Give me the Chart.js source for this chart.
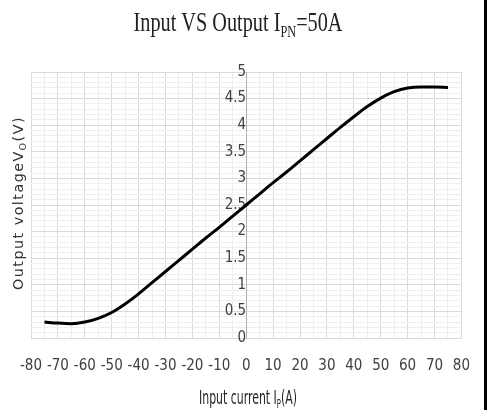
<!DOCTYPE html>
<html>
<head>
<meta charset="utf-8">
<script src="https://cdn.jsdelivr.net/npm/chart.js@4.4.1/dist/chart.umd.min.js"></script>
<style>
  html, body { margin: 0; padding: 0; background: #fff; overflow: hidden; }
  #wrap { position: relative; width: 489px; height: 410px; }
  #edge { position: absolute; left: 484px; top: 0; width: 3px; height: 410px; background: #000; }
</style>
</head>
<body>
<div id="wrap">
  <canvas id="chart" width="489" height="410"></canvas>
  <div id="edge"></div>
</div>
<script>
// values
const currentA = [-75, -70, -65, -60, -55, -50, -45, -40, -35, -30, -25, -20, -15, -10, -5,
    0, 5, 10, 15, 20, 25, 30, 35, 40, 45, 50, 55, 60, 65, 70, 75];
const voltageV = [0.30, 0.28, 0.27, 0.30, 0.37, 0.48, 0.64, 0.83, 1.04, 1.25, 1.46, 1.67, 1.88, 2.08, 2.29,
    2.50, 2.71, 2.92, 3.12, 3.33, 3.54, 3.75, 3.96, 4.16, 4.35, 4.51, 4.63, 4.70, 4.72, 4.72, 4.71];

const titleParts = [["Input VS Output I", false], ["PN", true], ["=50A", false]];
const xTitleParts = [["Input current I", false], ["P", true], ["(A)", false]];
const yTitleParts = [["Output voltageV", false], ["O", true], ["(V)", false]];

const narrow = '"Liberation Sans Narrow", "DejaVu Sans Condensed", "Liberation Sans", sans-serif';

// draw text with subscripts, squeezed/stretched to a given width
function drawRich(ctx, parts, cx, cy, size, family, width, spacing) {
    const subSize = Math.round(size * 0.62);
    ctx.save();
    ctx.textBaseline = "alphabetic";
    ctx.textAlign = "left";
    let total = 0;
    parts.forEach(p => {
        ctx.font = (p[1] ? subSize : size) + "px " + family;
        if (spacing) ctx.letterSpacing = spacing + "px";
        total += ctx.measureText(p[0]).width;
    });
    const sx = width / total;
    ctx.translate(cx, cy);
    ctx.scale(sx, 1);
    let x = -total / 2;
    parts.forEach(p => {
        ctx.font = (p[1] ? subSize : size) + "px " + family;
        if (spacing) ctx.letterSpacing = spacing + "px";
        ctx.fillText(p[0], x, p[1] ? size * 0.22 : 0);
        x += ctx.measureText(p[0]).width;
    });
    ctx.restore();
}

const labelsPlugin = {
    id: "labels",
    afterDraw(chart) {
        const ctx = chart.ctx;
        ctx.fillStyle = "#222";
        drawRich(ctx, titleParts, 238, 31, 28, '"Liberation Serif", serif', 209);
        ctx.fillStyle = "#262626";
        drawRich(ctx, xTitleParts, 248, 404, 19, narrow, 98);
        ctx.save();
        ctx.translate(23, 203);
        ctx.rotate(-Math.PI / 2);
        ctx.fillStyle = "#333";
        drawRich(ctx, yTitleParts, 0, 0, 14, '"DejaVu Sans", sans-serif', 174, 1.5);
        ctx.restore();
    }
};

function isMajor(v, step) {
    const r = v / step;
    return Math.abs(r - Math.round(r)) < 1e-6;
}

const ctx = document.getElementById("chart").getContext("2d");
window.chart = new Chart(ctx, {
    type: "scatter",
    data: {
        datasets: [{
            data: currentA.map((a, i) => ({ x: a, y: voltageV[i] })),
            showLine: true,
            borderColor: "#000",
            borderWidth: 3,
            pointRadius: 0,
            cubicInterpolationMode: "monotone",
            fill: false
        }]
    },
    options: {
        responsive: false,
        animation: false,
        devicePixelRatio: 1,
        layout: { padding: { left: 31, right: 22, top: 72, bottom: 32 } },
        plugins: {
            legend: { display: false },
            tooltip: { enabled: false },
            title: { display: false }
        },
        scales: {
            x: {
                type: "linear",
                min: -80,
                max: 80,
                afterFit(scale) { scale.height = 40; },
                ticks: {
                    stepSize: 5,
                    autoSkip: false,
                    maxRotation: 0,
                    padding: 19,
                    color: "#404040",
                    font: { family: narrow, size: 15 },
                    callback: v => isMajor(v, 10) ? String(v) : ""
                },
                grid: {
                    drawTicks: false,
                    color: c => isMajor(c.tick.value, 10) ? "#d9d9d9" : "#eeeeee"
                },
                border: { color: "#d9d9d9" }
            },
            y: {
                type: "linear",
                min: 0,
                max: 5,
                position: { x: 0 },
                ticks: {
                    stepSize: 0.1,
                    autoSkip: false,
                    padding: 6,
                    color: "#404040",
                    font: { family: narrow, size: 15 },
                    callback: v => isMajor(v, 0.5) ? String(Math.round(v * 10) / 10) : ""
                },
                grid: {
                    drawTicks: false,
                    color: c => isMajor(c.tick.value, 0.5) ? "#d9d9d9" : "#efefef"
                },
                border: { color: "#b0b0b0", width: 1 }
            }
        }
    },
    plugins: [labelsPlugin]
});
</script>
</body>
</html>
